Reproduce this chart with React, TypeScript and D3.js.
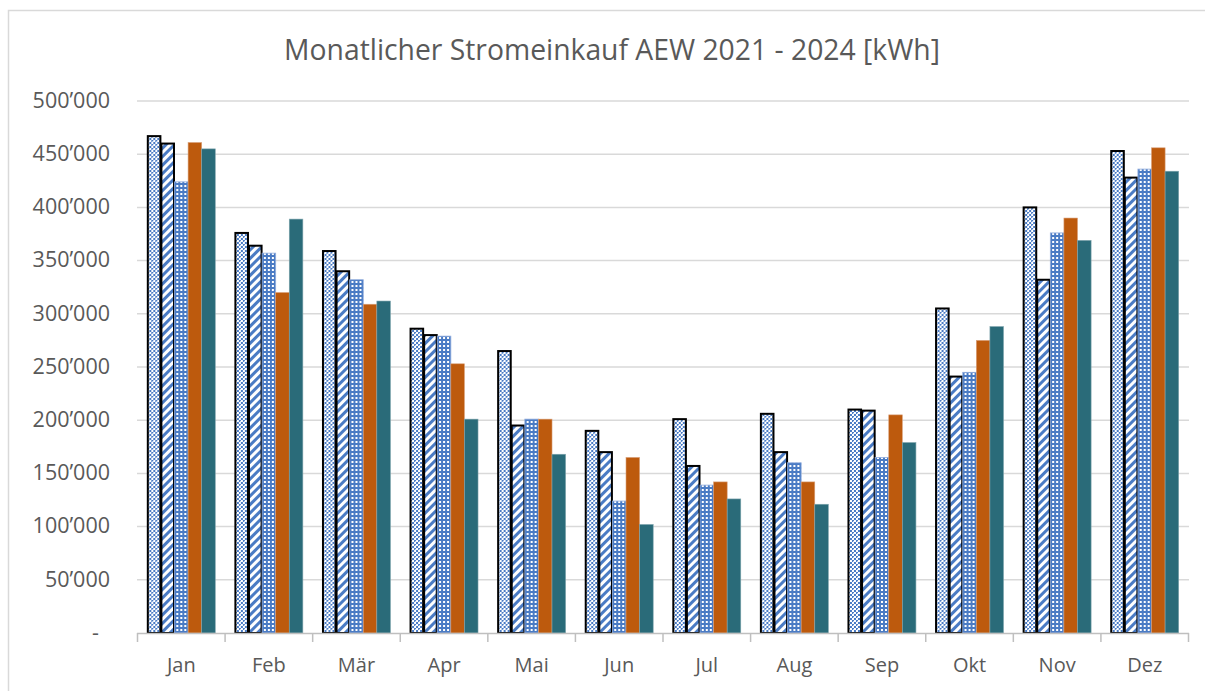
import React from "react";
import * as d3 from "d3";

const months = ["Jan", "Feb", "Mär", "Apr", "Mai", "Jun", "Jul", "Aug", "Sep", "Okt", "Nov", "Dez"];
const reihe1 = [467000, 376000, 359000, 286000, 265000, 190000, 201000, 206000, 210000, 305000, 400000, 453000];
const reihe2 = [460000, 364000, 340000, 280000, 195000, 170000, 157000, 170000, 209000, 241000, 332000, 428000];
const reihe3 = [424000, 357000, 332000, 279000, 201000, 124000, 139000, 160000, 165000, 245000, 376000, 436000];
const reihe4 = [461000, 320000, 309000, 253000, 201000, 165000, 142000, 142000, 205000, 275000, 390000, 456000];
const reihe5 = [455000, 389000, 312000, 201000, 168000, 102000, 126000, 121000, 179000, 288000, 369000, 434000];
const yTicks = [0, 50000, 100000, 150000, 200000, 250000, 300000, 350000, 400000, 450000, 500000];

const seriesKeys = ["r1", "r2", "r3", "r4", "r5"];
const seriesValues = [reihe1, reihe2, reihe3, reihe4, reihe5];

const W = 1205;
const H = 691;
const FONT = "'Open Sans', sans-serif";

const fmt = (v: number) => (v === 0 ? "-" : d3.format(",")(v).replace(/,/g, "\u2019"));

export default function App() {
  const x = d3.scaleBand().domain(months).range([137.5, 1188.5]).paddingInner(0.224).paddingOuter(0.112);
  const xs = d3.scaleBand().domain(seriesKeys).range([0, x.bandwidth()]).padding(0);
  const y = d3.scaleLinear().domain([0, 500000]).range([633, 101]);
  const step = x.step();
  const x0 = 137.5;

  const fills = ["url(#pDots)", "url(#pStripes)", "url(#pGrid)", "#bd5a0d", "#2a6b79"];
  const strokes = ["#000", "#000", "#8eaadb", "#d9a07a", "#7fa5ad"];
  const strokeW = [2, 2, 0.8, 0.6, 0.6];

  return (
    <svg width={W} height={H} style={{ position: "absolute", left: 0, top: 0, background: "#fff" }}>
      <defs>
        <pattern id="pDots" width="4" height="4" patternUnits="userSpaceOnUse">
          <rect width="4" height="4" fill="#fff" />
          <rect x="0" y="0" width="2" height="2" fill="#4a7bc4" />
          <rect x="2" y="2" width="2" height="2" fill="#4a7bc4" />
          <rect x="1" y="1" width="1" height="1" fill="#c5d6ee" />
        </pattern>
        <pattern id="pStripes" width="6" height="6" patternUnits="userSpaceOnUse" patternTransform="rotate(45)">
          <rect width="6" height="6" fill="#fff" />
          <rect width="3" height="6" fill="#4a7bc4" />
        </pattern>
        <pattern id="pGrid" width="4" height="4" patternUnits="userSpaceOnUse">
          <rect width="4" height="4" fill="#4a7bc4" />
          <rect x="1" y="1" width="2" height="2" fill="#fff" />
        </pattern>
      </defs>

      <rect x={8.5} y={10.5} width={W} height={H} fill="none" stroke="#d9d9d9" strokeWidth={1.5} />

      <text x={612} y={60} textAnchor="middle" fontFamily={FONT} fontSize={28.3} fill="#595959">
        Monatlicher Stromeinkauf AEW 2021 - 2024 [kWh]
      </text>

      {yTicks.map((t) => (
        <g key={t}>
          {t > 0 && <line x1={137} x2={1189} y1={y(t)} y2={y(t)} stroke="#d9d9d9" strokeWidth={1.5} />}
          <text
            x={t === 0 ? 99 : 110}
            y={y(t) + 1}
            textAnchor="end"
            dominantBaseline="middle"
            fontFamily={FONT}
            fontSize={21.5}
            fill="#595959"
          >
            {fmt(t)}
          </text>
        </g>
      ))}

      {months.map((m, i) => (
        <g key={m} transform={`translate(${x(m)},0)`}>
          {seriesValues.map((vals, s) => (
            <rect
              key={s}
              x={xs(seriesKeys[s])! + (s < 2 ? 0.5 : 0)}
              y={y(vals[i])}
              width={xs.bandwidth() - (s < 2 ? 1 : 0)}
              height={y(0) - y(vals[i])}
              fill={fills[s]}
              stroke={strokes[s]}
              strokeWidth={strokeW[s]}
            />
          ))}
        </g>
      ))}

      <line x1={137} x2={1189} y1={633.5} y2={633.5} stroke="#bfbfbf" strokeWidth={1.5} />
      {d3.range(months.length + 1).map((i) => (
        <line key={i} x1={x0 + i * step} x2={x0 + i * step} y1={633} y2={642} stroke="#bfbfbf" strokeWidth={1.5} />
      ))}
      {months.map((m) => (
        <text
          key={m}
          x={x(m)! + x.bandwidth() / 2}
          y={672}
          textAnchor="middle"
          fontFamily={FONT}
          fontSize={20}
          fill="#595959"
        >
          {m}
        </text>
      ))}
    </svg>
  );
}
